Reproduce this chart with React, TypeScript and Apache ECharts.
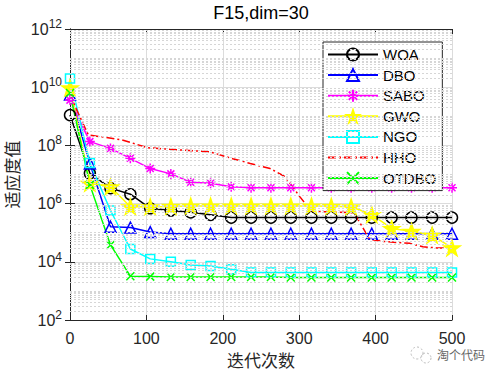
import React, { useEffect, useRef } from "react";
import * as echarts from "echarts";

// ---------------- data ----------------
const iterations = [0, 26, 53, 79, 105, 132, 158, 184, 211, 237, 263, 289, 316, 342, 368, 395, 421, 447, 474, 500];

const woa = [1.1e9, 1.1e7, 3.4e6, 2.1e6, 6.9e5, 5.8e5, 5.0e5, 4.1e5, 3.3e5, 3.3e5, 3.3e5, 3.3e5, 3.3e5, 3.3e5, 3.3e5, 3.3e5, 3.3e5, 3.3e5, 3.3e5, 3.3e5];
const dbo = [5.6e9, 2.4e7, 1.6e5, 1.5e5, 1.05e5, 9.2e4, 9.2e4, 9.2e4, 9.2e4, 9.2e4, 9.2e4, 9.2e4, 9.2e4, 9.2e4, 9.2e4, 9.2e4, 9.2e4, 9.2e4, 9.2e4, 9.2e4];
const sabo = [3.6e9, 1.35e8, 7.9e7, 3.6e7, 1.6e7, 1.05e7, 5.4e6, 5.0e6, 3.8e6, 3.5e6, 3.5e6, 3.5e6, 3.5e6, 3.5e6, 3.5e6, 3.5e6, 3.5e6, 3.5e6, 3.5e6, 3.5e6];
const gwo = [9.5e9, 5.0e6, 3.8e6, 7.8e5, 7.8e5, 8.0e5, 8.3e5, 8.3e5, 8.3e5, 8.3e5, 8.3e5, 8.3e5, 8.3e5, 8.1e5, 7.8e5, 4.2e5, 1.4e5, 1.12e5, 8.3e4, 3.0e4];
const ngo = [2.0e10, 2.5e7, 5.8e5, 2.75e4, 1.26e4, 1.0e4, 7.8e3, 7.2e3, 5.5e3, 4.3e3, 4.3e3, 4.3e3, 4.3e3, 4.3e3, 4.3e3, 4.3e3, 4.3e3, 4.3e3, 4.3e3, 4.3e3];
const otdbo = [6.3e9, 4.4e6, 3.8e4, 3.2e3, 3.1e3, 3.0e3, 3.0e3, 3.0e3, 3.0e3, 3.0e3, 3.0e3, 2.9e3, 2.9e3, 2.9e3, 2.9e3, 2.9e3, 2.9e3, 2.9e3, 2.9e3, 2.9e3];

const hhoIterations = [0, 7, 24, 68, 102, 146, 183, 213, 236, 262, 280, 288, 301, 316, 340, 372, 392, 410, 445, 462, 480, 500];
const hho = [6.3e9, 2.1e9, 2.3e8, 1.55e8, 8.3e7, 6.9e7, 6.0e7, 3.5e7, 2.4e7, 1.6e7, 8.9e6, 5.0e6, 1.7e6, 5.5e5, 5.2e5, 4.8e5, 6.0e4, 5.0e4, 4.3e4, 3.3e4, 3.0e4, 3.0e4];

const names = ["WOA", "DBO", "SABO", "GWO", "NGO", "HHO", "OTDBO"];
const title = "F15,dim=30";
const xName = "迭代次数";
const yName = "适应度值";
const watermark = "淘个代码";
const xTicks = { min: 0, max: 500, step: 100 };
const yTicks = { min: 1e2, max: 1e12 };
const minorMultipliers = [1, 2, 3, 4, 5, 6, 7, 8, 9];
const decades = [2, 3, 4, 5, 6, 7, 8, 9, 10, 11];

// ---------------- styles ----------------
const FONT = "Liberation Sans, Arial, Helvetica, sans-serif";
const CJK = "Noto Sans CJK SC, sans-serif";
const AX = "#262626";
const GRID = "#dcdcdc";

const STAR =
  "path://M50,0 L61.23,34.55 L97.55,34.55 L68.17,55.9 L79.39,90.45 L50,69.1 L20.61,90.45 L31.83,55.9 L2.45,34.55 L38.77,34.55 Z";
const ASTERISK = "path://M5,0L5,10M0,5L10,5M1.5,1.5L8.5,8.5M8.5,1.5L1.5,8.5";
const XMARK = "path://M0,0L10,10M10,0L0,10";

export default function App() {
  const ref = useRef<HTMLDivElement>(null);

  useEffect(() => {
    if (!ref.current) return;
    const chart = echarts.init(ref.current, null, { renderer: "svg" });

    const mk = (
      name: string,
      xs: number[],
      vals: number[],
      color: string,
      symbol: string,
      size: number,
      filled: boolean,
      keep = false,
      dash: any = "solid",
      hideSymbol = false
    ) => ({
      name,
      type: "line",
      data: xs.map((x, i) => [x, vals[i]]),
      symbol,
      symbolSize: size,
      symbolKeepAspect: keep,
      showSymbol: !hideSymbol,
      showAllSymbol: true,
      clip: true,
      z: 3,
      lineStyle: { color, width: 1.5, type: dash },
      itemStyle: hideSymbol
        ? { color: "rgba(0,0,0,0)", borderColor: "rgba(0,0,0,0)", borderWidth: 0 }
        : {
            color: filled ? color : "rgba(0,0,0,0)",
            borderColor: color,
            borderWidth: 1.5,
          },
      emphasis: { disabled: true },
    });

    const minorLines: { yAxis: number }[] = [];
    decades.forEach((d) => {
      minorMultipliers.forEach((m) => {
        if (m === 1 && d % 2 === 0) return;
        minorLines.push({ yAxis: m * Math.pow(10, d) });
      });
    });

    const option: any = {
      animation: false,
      backgroundColor: "#ffffff",
      title: {
        text: title,
        left: 261,
        top: 4,
        textAlign: "center",
        padding: 0,
        textStyle: { fontFamily: FONT, fontSize: 18, fontWeight: "normal", color: "#000" },
      },
      grid: { left: 70, right: 48, top: 29, bottom: 55, containLabel: false, outerBoundsMode: "none" },
      legend: {
        orient: "vertical",
        left: 323,
        top: 42,
        itemWidth: 50,
        itemHeight: 15,
        itemGap: 5.6,
        padding: [5, 6, 5, 4],
        borderColor: AX,
        borderWidth: 1,
        backgroundColor: "#ffffff",
        textStyle: { fontFamily: FONT, fontSize: 15, color: "#000" },
        data: names,
      },
      xAxis: [
        {
          type: "value",
          min: xTicks.min,
          max: xTicks.max,
          interval: xTicks.step,
          name: xName,
          nameLocation: "middle",
          nameGap: 31,
          nameTextStyle: { fontFamily: CJK, fontSize: 17, color: AX },
          axisLine: { onZero: false, lineStyle: { color: AX, width: 1 } },
          axisTick: { inside: true, length: 5, lineStyle: { color: AX } },
          axisLabel: { fontFamily: FONT, fontSize: 16, color: AX, margin: 10 },
          splitLine: { show: true, lineStyle: { color: GRID, width: 1 } },
        },
        {
          type: "value",
          position: "top",
          min: xTicks.min,
          max: xTicks.max,
          interval: xTicks.step,
          axisLine: { onZero: false, lineStyle: { color: AX, width: 1 } },
          axisTick: { inside: true, length: 5, lineStyle: { color: AX } },
          axisLabel: { show: false },
          splitLine: { show: false },
        },
      ],
      yAxis: [
        {
          type: "log",
          logBase: 10,
          min: yTicks.min,
          max: yTicks.max,
          interval: 2,
          name: yName,
          nameLocation: "middle",
          nameGap: 46,
          nameRotate: 90,
          nameTextStyle: { fontFamily: CJK, fontSize: 17, color: AX },
          axisLine: { show: true, lineStyle: { color: AX, width: 1 } },
          axisTick: { show: true, inside: true, length: 5, lineStyle: { color: AX } },
          axisLabel: {
            margin: 8,
            color: AX,
            formatter: (v: number) => `{b|10}{s|${Math.round(Math.log10(v))}}`,
            rich: {
              b: { fontFamily: FONT, fontSize: 16, color: AX },
              s: { fontFamily: FONT, fontSize: 12, color: AX, padding: [0, 0, 10, 0] },
            },
          },
          splitLine: { show: true, lineStyle: { color: GRID, width: 1 } },
        },
        {
          type: "log",
          logBase: 10,
          position: "right",
          min: yTicks.min,
          max: yTicks.max,
          interval: 2,
          axisLine: { show: true, lineStyle: { color: AX, width: 1 } },
          axisTick: { show: true, inside: true, length: 5, lineStyle: { color: AX } },
          axisLabel: { show: false },
          splitLine: { show: false },
        },
      ],
      series: [
        {
          name: "_minorgrid",
          type: "line",
          data: [],
          z: 1,
          silent: true,
          markLine: {
            silent: true,
            symbol: ["none", "none"],
            label: { show: false },
            lineStyle: { color: "#d6d6d6", width: 1, type: [2, 2] },
            emphasis: { disabled: true },
            data: minorLines,
          },
        },
        mk("WOA", iterations, woa, "#000000", "circle", 11, false),
        mk("DBO", iterations, dbo, "#0000ff", "triangle", 11, false),
        mk("SABO", iterations, sabo, "#ff00ff", ASTERISK, 10, false),
        mk("GWO", iterations, gwo, "#ffff00", STAR, 16, true, true),
        mk("NGO", iterations, ngo, "#00ffff", "rect", 9, false),
        mk("HHO", hhoIterations, hho, "#ff0000", "circle", 1, false, false, [8, 3, 2, 3], true),
        mk("OTDBO", iterations, otdbo, "#00ff00", XMARK, 8, false),
      ],
      graphic: [
        { type: "circle", shape: { cx: 417, cy: 353, r: 6 }, style: { fill: "none", stroke: "#bbbbbb", lineWidth: 1, lineDash: [2, 2] } },
        { type: "circle", shape: { cx: 426, cy: 358, r: 5 }, style: { fill: "none", stroke: "#bbbbbb", lineWidth: 1, lineDash: [2, 2] } },
        {
          type: "text",
          left: 437,
          top: 348,
          style: { text: watermark, fontFamily: CJK, fontSize: 12, fill: "#666666" },
        },
      ],
    };

    chart.setOption(option);
    return () => chart.dispose();
  }, []);

  return (
    <div
      ref={ref}
      style={{ position: "absolute", left: 0, top: 0, width: 500, height: 375, background: "#fff" }}
    />
  );
}
